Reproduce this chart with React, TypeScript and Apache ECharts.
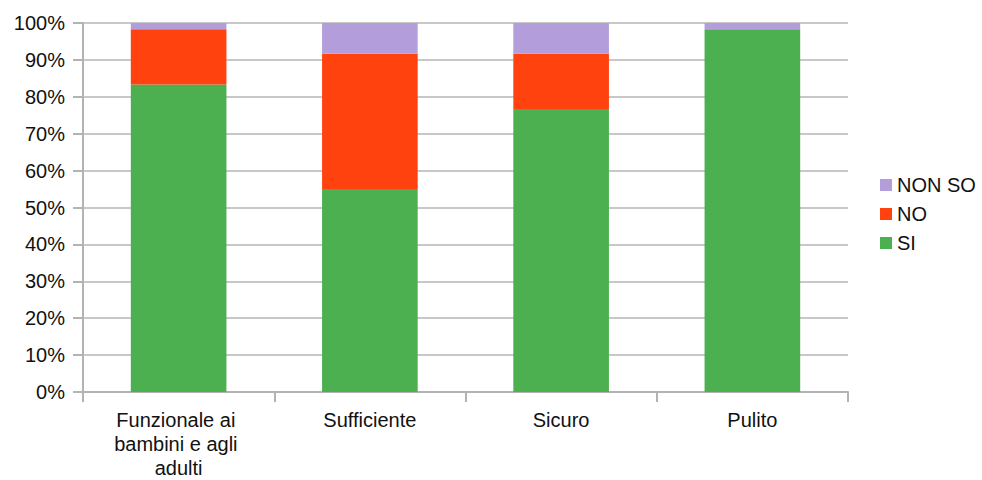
import React, { useEffect, useRef } from "react";
import * as echarts from "echarts";

const categories = ["Funzionale ai bambini e agli adulti", "Sufficiente", "Sicuro", "Pulito"];
const siValues = [83.3, 55.0, 76.7, 98.3];
const noValues = [15.0, 36.7, 15.0, 0];
const nonSoValues = [1.7, 8.3, 8.3, 1.7];
const yTicks = [0, 10, 20, 30, 40, 50, 60, 70, 80, 90, 100];

const FONT = "'Liberation Sans', Arial, sans-serif";

export default function App() {
  const ref = useRef<HTMLDivElement>(null);
  useEffect(() => {
    if (!ref.current) return;
    const chart = echarts.init(ref.current, null, { renderer: "svg" });
    chart.setOption({
      animation: false,
      backgroundColor: "#ffffff",
      textStyle: { fontFamily: FONT },
      grid: { left: 83, right: 134, top: 23, bottom: 85, containLabel: false },
      legend: {
        orient: "vertical",
        left: 875,
        top: 170,
        itemWidth: 12,
        itemHeight: 12,
        itemGap: 9,
        icon: "rect",
        data: ["NON SO", "NO", "SI"],
        textStyle: { fontFamily: FONT, fontSize: 20, color: "#111" },
      },
      xAxis: {
        type: "category",
        data: categories,
        axisLine: { lineStyle: { color: "#b3b3b3", width: 2 } },
        axisTick: { show: true, length: 10, alignWithLabel: false, lineStyle: { color: "#b3b3b3", width: 2 } },
        axisLabel: {
          interval: 0,
          margin: 16,
          width: 160,
          overflow: "break",
          lineHeight: 24,
          fontFamily: FONT,
          fontSize: 20,
          color: "#111",
        },
      },
      yAxis: {
        type: "value",
        min: yTicks[0],
        max: yTicks[yTicks.length - 1],
        interval: 10,
        axisLine: { show: true, lineStyle: { color: "#b3b3b3", width: 2 } },
        axisTick: { show: true, length: 10, lineStyle: { color: "#b3b3b3", width: 2 } },
        splitLine: { show: true, lineStyle: { color: "#c8c8c8", width: 2 } },
        axisLabel: {
          margin: 18,
          formatter: "{value}%",
          fontFamily: FONT,
          fontSize: 20,
          color: "#111",
        },
      },
      series: [
        {
          name: "SI",
          type: "bar",
          stack: "total",
          barWidth: "50%",
          data: siValues,
          itemStyle: { color: "#4CAF50" },
        },
        {
          name: "NO",
          type: "bar",
          stack: "total",
          barWidth: "50%",
          data: noValues,
          itemStyle: { color: "#FF420E" },
        },
        {
          name: "NON SO",
          type: "bar",
          stack: "total",
          barWidth: "50%",
          data: nonSoValues,
          itemStyle: { color: "#B39DDB" },
        },
      ],
    });
    return () => chart.dispose();
  }, []);
  return (
    <div
      ref={ref}
      style={{ position: "fixed", left: 0, top: 0, width: 982, height: 480, background: "#fff" }}
    />
  );
}
